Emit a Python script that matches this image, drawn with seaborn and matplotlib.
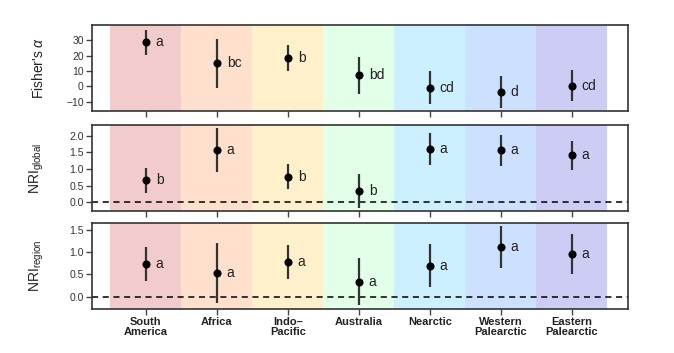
import numpy as np
import matplotlib
matplotlib.use("Agg")
import matplotlib.pyplot as plt
import seaborn as sns

# data
regions = ["South\nAmerica", "Africa", "Indo\u2013\nPacific", "Australia",
           "Nearctic", "Western\nPalearctic", "Eastern\nPalearctic"]
band_colors = ["#F2CCCC", "#FFE0CC", "#FFF0CC", "#E2FFE8",
               "#CCF0FF", "#CCE0FF", "#CCCCF5"]

fisher_mean = [29.0, 15.4, 18.6, 7.6, -0.8, -3.7, 0.5]
fisher_lo = [20.3, -0.8, 10.0, -4.7, -11.5, -14.0, -9.4]
fisher_hi = [37.0, 30.6, 27.2, 19.4, 9.9, 6.9, 10.8]
fisher_let = ["a", "bc", "b", "bd", "cd", "d", "cd"]

nrig_mean = [0.66, 1.57, 0.77, 0.34, 1.61, 1.57, 1.42]
nrig_lo = [0.29, 0.90, 0.40, -0.18, 1.12, 1.09, 0.97]
nrig_hi = [1.02, 2.22, 1.14, 0.85, 2.07, 2.02, 1.85]
nrig_let = ["b", "a", "b", "b", "a", "a", "a"]

nrir_mean = [0.74, 0.53, 0.77, 0.32, 0.69, 1.12, 0.96]
nrir_lo = [0.35, -0.15, 0.40, -0.20, 0.21, 0.65, 0.50]
nrir_hi = [1.11, 1.20, 1.15, 0.86, 1.18, 1.59, 1.40]
nrir_let = ["a", "a", "a", "a", "a", "a", "a"]

sns.set_style("white")
plt.rcParams["font.family"] = ["Liberation Sans", "DejaVu Sans"]
plt.rcParams["mathtext.fontset"] = "custom"
plt.rcParams["mathtext.rm"] = "Liberation Sans"
plt.rcParams["mathtext.it"] = "Liberation Sans:italic"

fig = plt.figure(figsize=(6.74, 3.53), dpi=100)
x = np.arange(len(regions))

panels = [
    (fisher_mean, fisher_lo, fisher_hi, fisher_let, "Fisher's $\\alpha$",
     (-16, 40), [-10, 0, 10, 20, 30], ["\u221210", "0", "10", "20", "30"], 0.6856, False),
    (nrig_mean, nrig_lo, nrig_hi, nrig_let, r"NRI$_{\mathrm{global}}$",
     (-0.26, 2.32), [0, 0.5, 1.0, 1.5, 2.0], ["0.0", "0.5", "1.0", "1.5", "2.0"], 0.4023, True),
    (nrir_mean, nrir_lo, nrir_hi, nrir_let, r"NRI$_{\mathrm{region}}$",
     (-0.28, 1.65), [0, 0.5, 1.0, 1.5], ["0.0", "0.5", "1.0", "1.5"], 0.1246, True),
]

for i, (m, lo, hi, let, lab, ylim, yt, ytl, bottom, zero) in enumerate(panels):
    ax = fig.add_axes([0.1365, bottom, 0.795, 0.2436])
    for j, c in enumerate(band_colors):
        ax.axvspan(j - 0.5, j + 0.5, color=c, lw=0, zorder=0)
    if zero:
        ax.axhline(0, color="black", lw=1.1, ls=(0, (4, 3)), zorder=1)
    ax.vlines(x, lo, hi, color="#333333", lw=1.6, zorder=2)
    sns.scatterplot(x=x, y=m, ax=ax, color="black", s=34, edgecolor="black",
                    linewidth=0, zorder=3, legend=False)
    for xi, yi, t in zip(x, m, let):
        ax.text(xi + 0.14, yi, t, fontsize=10, va="center", ha="left",
                color="#222222", zorder=4)
    ax.set_xlim(-0.76, 6.79)
    ax.set_ylim(*ylim)
    ax.set_yticks(yt)
    ax.set_yticklabels(ytl, fontsize=7.5, color="#333333")
    ax.set_xticks(x)
    if i == 2:
        ax.set_xticklabels(regions, fontsize=8, fontweight="bold",
                           color="#222222", linespacing=1.0)
    else:
        ax.set_xticklabels([])
    ax.tick_params(axis="both", direction="out", length=4, width=1,
                   color="#444444", left=True, bottom=True, pad=2)
    ax.set_ylabel(lab, fontsize=10, color="#222222", labelpad=4)
    ax.yaxis.set_label_coords(-0.085, 0.5)
    for s in ax.spines.values():
        s.set_color("#333333")
        s.set_linewidth(1.2)

fig.savefig("out.png", dpi=100)
